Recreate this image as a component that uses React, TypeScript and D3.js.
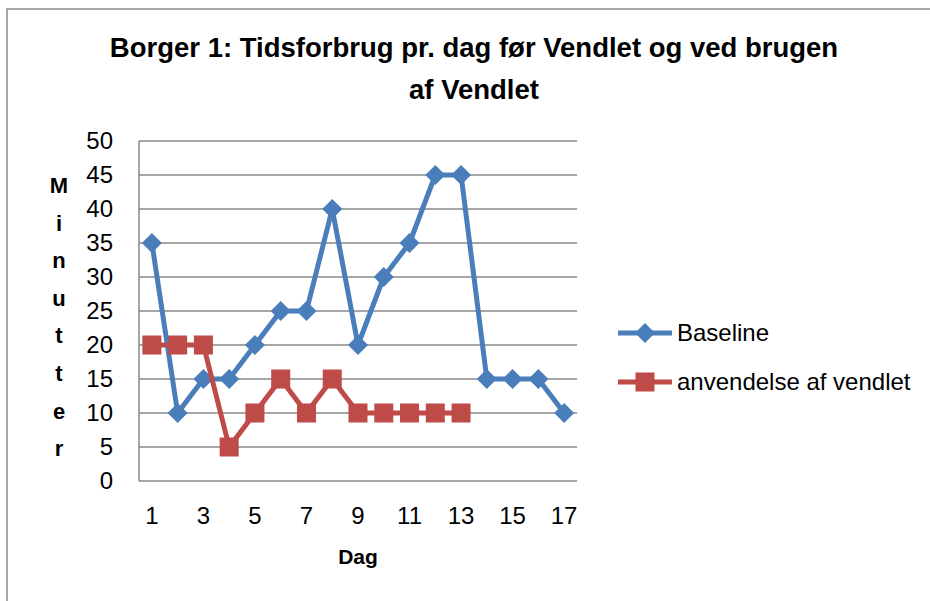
import React from 'react';
import * as d3 from 'd3';

// Chart data
const days = [1, 2, 3, 4, 5, 6, 7, 8, 9, 10, 11, 12, 13, 14, 15, 16, 17];
const baseline = [35, 10, 15, 15, 20, 25, 25, 40, 20, 30, 35, 45, 45, 15, 15, 15, 10];
const vendlet = [20, 20, 20, 5, 10, 15, 10, 15, 10, 10, 10, 10, 10];
const yTicks = [0, 5, 10, 15, 20, 25, 30, 35, 40, 45, 50];
const xTickLabels = [1, 3, 5, 7, 9, 11, 13, 15, 17];
const titleLines = ['Borger 1: Tidsforbrug pr. dag før Vendlet og ved brugen', 'af Vendlet'];
const yLabel = 'Minutter';

const W = 930;
const H = 601;
const plot = { left: 139, right: 577, top: 141, bottom: 481 };
const BLUE = '#4A7EBB';
const RED = '#BE4B48';
const GRID = '#898989';
const FONT = '"Liberation Sans", Arial, sans-serif';

const App = () => {
  const x = d3.scaleBand<number>().domain(days).range([plot.left, plot.right]);
  const cx = (d: number) => (x(d) ?? 0) + x.bandwidth() / 2;
  const y = d3.scaleLinear().domain([0, 50]).range([plot.bottom, plot.top]);

  const line = d3.line<number>()
    .x((_, i) => cx(days[i]))
    .y(v => y(v));

  const diamond = (px: number, py: number, r = 10) =>
    `M${px},${py - r}L${px + r},${py}L${px},${py + r}L${px - r},${py}Z`;

  return (
    <svg width={W} height={H} style={{ position: 'absolute', left: 0, top: 0, background: '#fff' }}>
      <rect x={7} y={9} width={1000} height={1000} fill="#fff" stroke={GRID} strokeWidth={1.5} />

      {/* title */}
      {titleLines.map((t, i) => (
        <text key={i} x={474} y={57 + i * 42} textAnchor="middle" fontFamily={FONT}
          fontWeight="bold" fontSize={27.5} fill="#000">{t}</text>
      ))}

      {/* gridlines */}
      {yTicks.map(t => (
        <line key={t} x1={plot.left} x2={plot.right} y1={y(t)} y2={y(t)} stroke={GRID} strokeWidth={1.5} />
      ))}
      <line x1={plot.left} x2={plot.left} y1={plot.top} y2={plot.bottom} stroke={GRID} strokeWidth={1.5} />

      {/* y tick labels */}
      {yTicks.map(t => (
        <text key={t} x={113} y={y(t)} dy="0.35em" textAnchor="end" fontFamily={FONT}
          fontSize={24} fill="#000">{t}</text>
      ))}

      {/* x tick labels */}
      {xTickLabels.map(d => (
        <text key={d} x={cx(d)} y={524} textAnchor="middle" fontFamily={FONT}
          fontSize={24} fill="#000">{d}</text>
      ))}

      {/* axis titles */}
      <text x={358} y={564} textAnchor="middle" fontFamily={FONT} fontWeight="bold"
        fontSize={21} fill="#000">Dag</text>
      {yLabel.split('').map((c, i) => (
        <text key={i} x={59} y={193 + i * 37.6} textAnchor="middle" fontFamily={FONT}
          fontWeight="bold" fontSize={22} fill="#000">{c}</text>
      ))}

      {/* series */}
      <path d={line(baseline) ?? ''} fill="none" stroke={BLUE} strokeWidth={5} strokeLinejoin="round" />
      {baseline.map((v, i) => (
        <path key={i} d={diamond(cx(days[i]), y(v))} fill={BLUE} />
      ))}
      <path d={line(vendlet) ?? ''} fill="none" stroke={RED} strokeWidth={5} strokeLinejoin="round" />
      {vendlet.map((v, i) => (
        <rect key={i} x={cx(days[i]) - 9.5} y={y(v) - 9.5} width={19} height={19} fill={RED} />
      ))}

      {/* legend */}
      <line x1={618} x2={672} y1={333} y2={333} stroke={BLUE} strokeWidth={5} />
      <path d={diamond(645, 333)} fill={BLUE} />
      <text x={677} y={333} dy="0.35em" fontFamily={FONT} fontSize={24} fill="#000">Baseline</text>
      <line x1={618} x2={672} y1={382} y2={382} stroke={RED} strokeWidth={5} />
      <rect x={635.5} y={372.5} width={19} height={19} fill={RED} />
      <text x={677} y={382} dy="0.35em" fontFamily={FONT} fontSize={24} fill="#000">anvendelse af vendlet</text>
    </svg>
  );
};

export default App;
